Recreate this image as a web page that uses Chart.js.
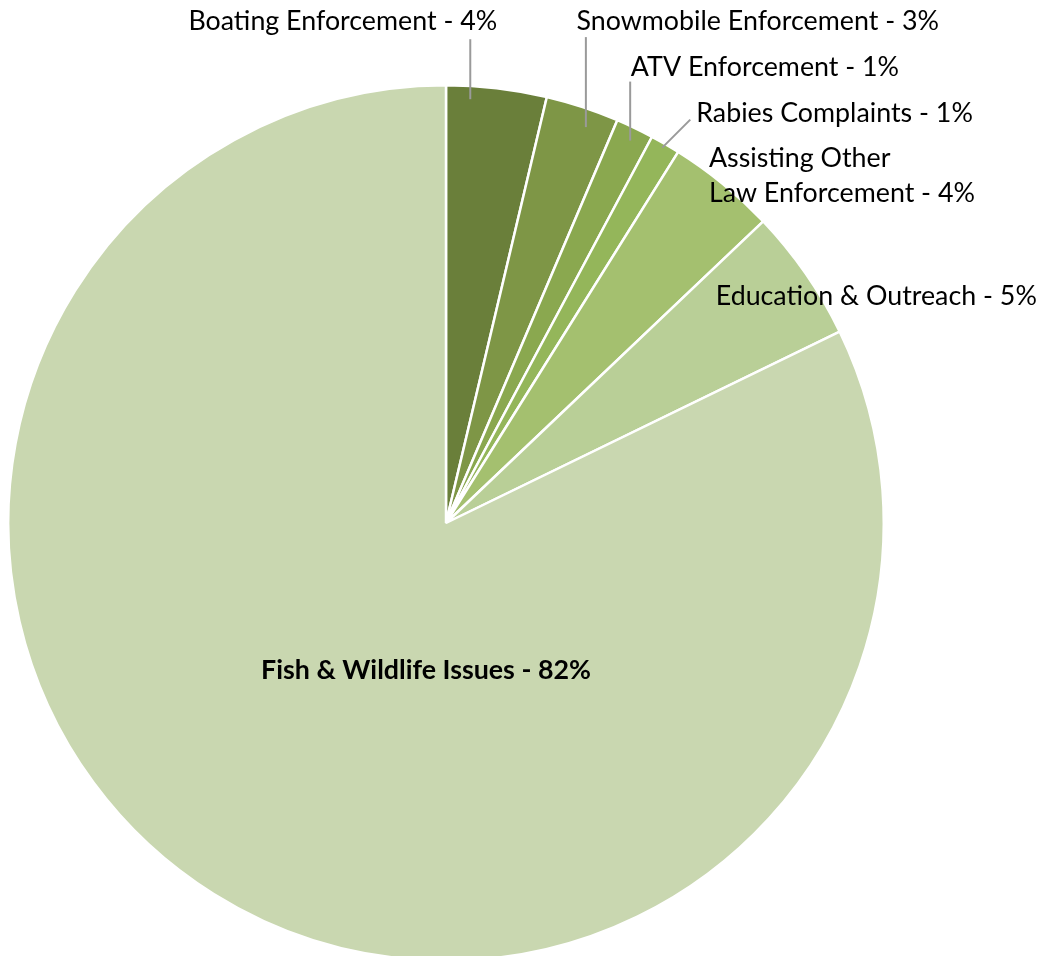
<!DOCTYPE html>
<html>
<head>
<meta charset="utf-8">
<script src="https://cdn.jsdelivr.net/npm/chart.js@4/dist/chart.umd.min.js"></script>
<style>
  html, body { margin: 0; padding: 0; background: #fff; overflow: hidden; }
  /* a little taller than the window: the pie's bottom is clipped like the original */
  #wrap { width: 1037px; height: 962px; position: relative; }
</style>
</head>
<body>
<div id="wrap"><canvas id="pieCanvas"></canvas></div>
<script>
// slices go clockwise from 12 o'clock
const categories = ['Boating Enforcement', 'Snowmobile Enforcement', 'ATV Enforcement', 'Rabies Complaints',
    'Assisting Other Law Enforcement', 'Education & Outreach', 'Fish & Wildlife Issues'];
const shares = [3.7, 2.7, 1.4, 1.1, 4.0, 4.9, 82.2];
const shownPct = ['4%', '3%', '1%', '1%', '4%', '5%', '82%'];
const labelLines = [
    ['Boating Enforcement - 4%'],
    ['Snowmobile Enforcement - 3%'],
    ['ATV Enforcement - 1%'],
    ['Rabies Complaints - 1%'],
    ['Assisting Other', 'Law Enforcement - 4%'],
    ['Education & Outreach - 5%'],
    ['Fish & Wildlife Issues - 82%']
];
const sliceColors = ['#6a7f3a', '#7e9646', '#8aa84f', '#94b65a', '#a4c06f', '#b9cf97', '#c9d7b0'];

// where each label sits, relative to the point on the slice's mid angle at radius f*R
const labelPlace = [
    { f: 1, dx: 0.5, dy: -67, align: 'right', leader: [-26.5, 11, -26.5, -49] },
    { f: 1, dx: -6, dy: -86, align: 'left', leader: [3.3, 20, 3.3, -70] },
    { f: 1, dx: -4, dy: -60.5, align: 'left', leader: [-4.7, 12.5, -4.7, -46.5] },
    { f: 1, dx: 31, dy: -30.5, align: 'left', leader: [-3, 3.5, 25, -24.5] },
    { f: 1, dx: -14, dy: -26, align: 'left', gap: 35 },
    { f: 1, dx: -90, dy: 23, align: 'left' },
    { f: 0, dx: -20, dy: 147, align: 'center', bold: true }
];

const pieLabels = {
    id: 'pieLabels',
    afterDatasetsDraw(chart) {
        const ctx = chart.ctx;
        const meta = chart.getDatasetMeta(0);
        meta.data.forEach((arc, i) => {
            const p = arc.getProps(['x', 'y', 'startAngle', 'endAngle', 'outerRadius'], true);
            const mid = (p.startAngle + p.endAngle) / 2;
            const pl = labelPlace[i];
            const ax = p.x + Math.cos(mid) * p.outerRadius * pl.f;
            const ay = p.y + Math.sin(mid) * p.outerRadius * pl.f;
            ctx.save();
            if (pl.leader) {
                ctx.strokeStyle = '#9a9a9a';
                ctx.lineWidth = 2;
                ctx.beginPath();
                ctx.moveTo(ax + pl.leader[0], ay + pl.leader[1]);
                ctx.lineTo(ax + pl.leader[2], ay + pl.leader[3]);
                ctx.stroke();
            }
            ctx.fillStyle = '#000';
            ctx.font = (pl.bold ? 'bold ' : '') + '26.8px Lato, "Open Sans", sans-serif';
            ctx.textAlign = pl.align;
            ctx.textBaseline = 'middle';
            labelLines[i].forEach((line, k) => {
                ctx.fillText(line, ax + pl.dx, ay + pl.dy + k * (pl.gap || 0));
            });
            ctx.restore();
        });
    }
};

const ctx = document.getElementById('pieCanvas').getContext('2d');
const pieChart = new Chart(ctx, {
    type: 'pie',
    data: {
        labels: categories,
        datasets: [{
            data: shares,
            backgroundColor: sliceColors,
            borderColor: '#ffffff',
            borderWidth: 2.5
        }]
    },
    options: {
        responsive: true,
        maintainAspectRatio: false,
        animation: false,
        layout: { padding: { left: 7, top: 84, right: 152, bottom: 0 } },
        plugins: {
            legend: { display: false },
            tooltip: { enabled: false }
        }
    },
    plugins: [pieLabels]
});
</script>
</body>
</html>
